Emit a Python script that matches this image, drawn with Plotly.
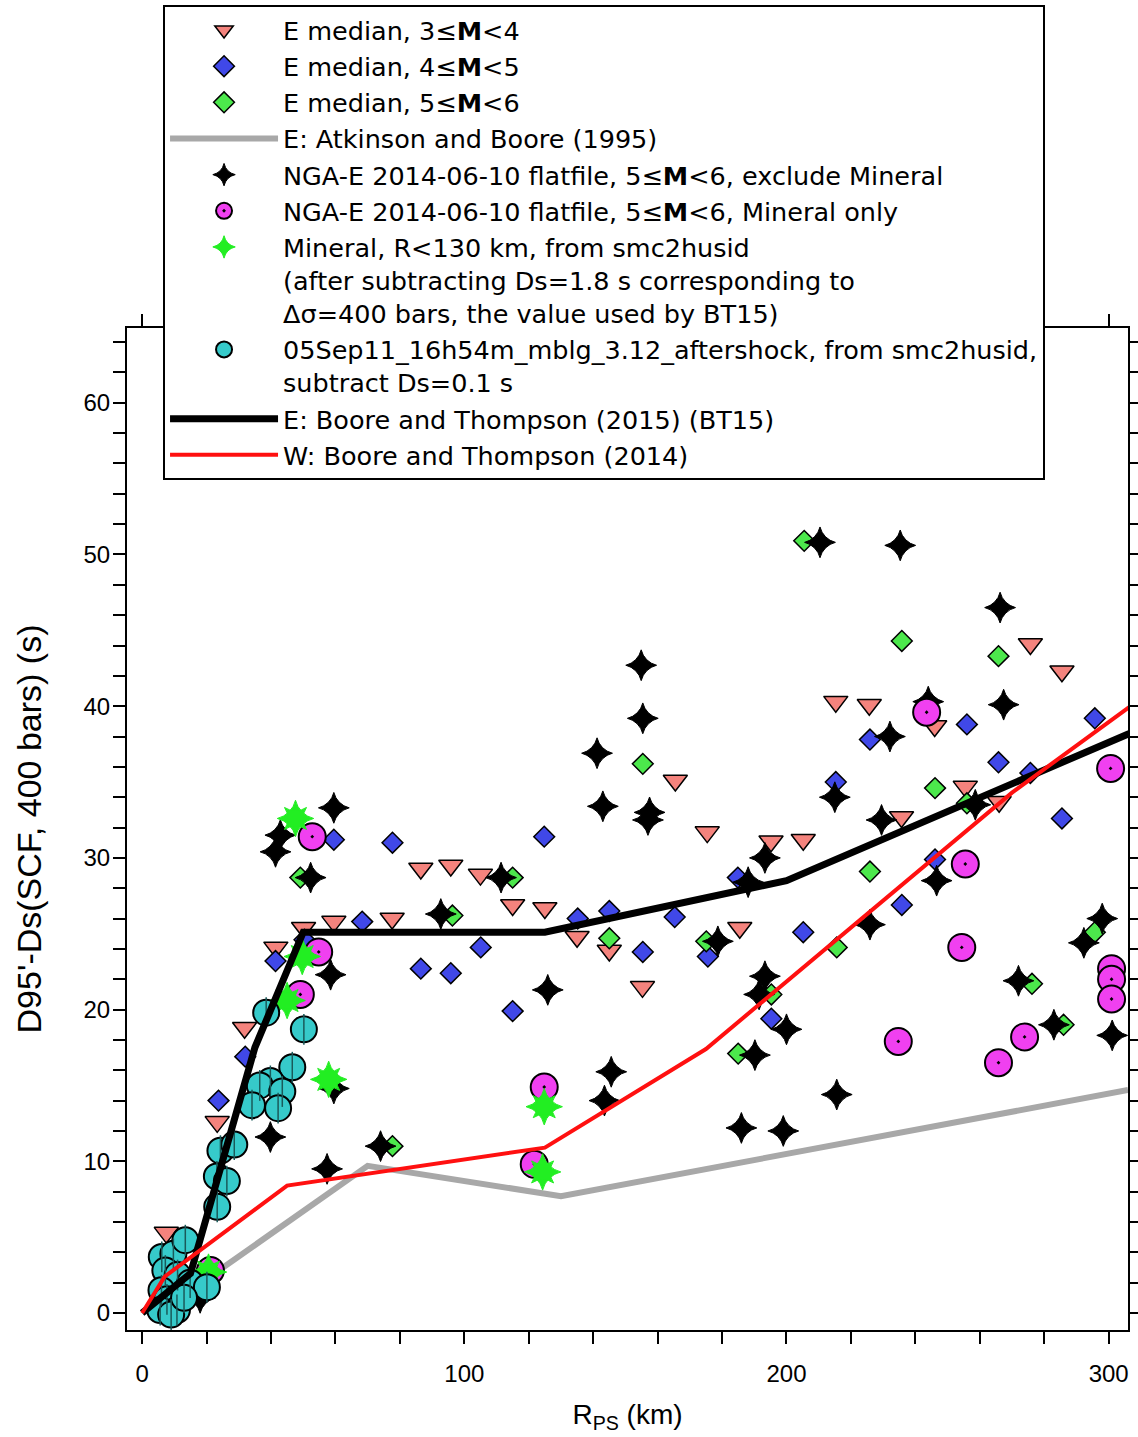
import plotly.graph_objects as go

# ---------------- data ----------------
tri_x = [7.5, 23.3, 31.8, 41.5, 50.1, 59.5, 77.6, 86.5, 95.8, 105.0, 115.0, 125.0, 135.0, 145.0,
         155.3, 165.5, 175.4, 185.5, 195.2, 205.2, 215.3, 225.7, 235.7, 246.0, 255.5, 266.0, 275.7, 285.5]
tri_y = [5.3, 12.6, 18.8, 24.1, 25.4, 25.8, 26.0, 29.3, 29.5, 28.9, 26.9, 26.7, 24.8, 23.9,
         21.5, 35.1, 31.7, 25.4, 31.1, 31.2, 40.3, 40.1, 32.7, 38.7, 34.7, 33.7, 44.1, 42.3]

blue_x = [23.7, 32.0, 41.4, 50.4, 59.5, 68.3, 77.7, 86.5, 95.8, 105.1, 115.0, 124.8, 135.2, 145.0,
          155.4, 165.3, 175.6, 184.9, 195.3, 205.2, 215.3, 225.9, 235.8, 246.1, 256.0, 265.8, 275.7,
          285.5, 295.7]
blue_y = [14.0, 16.9, 23.2, 24.6, 31.2, 25.8, 31.0, 22.7, 22.4, 24.1, 19.9, 31.4, 26.0, 26.5,
          23.8, 26.1, 23.5, 28.7, 19.4, 25.1, 35.0, 37.8, 26.9, 29.9, 38.8, 36.3, 35.6,
          32.6, 39.2]

green_x = [49.1, 77.7, 96.3, 115.0, 145.0, 155.4, 175.1, 185.0, 195.3, 205.5, 215.6, 225.9, 235.8,
           246.1, 256.0, 265.8, 276.2, 286.0, 295.7]
green_y = [28.7, 11.0, 26.2, 28.7, 24.7, 36.2, 24.5, 17.1, 21.0, 50.9, 24.1, 29.1, 44.3,
           34.6, 33.6, 43.3, 21.7, 19.0, 25.1]

ab95_x = [5, 70, 130, 306]
ab95_y = [0.0, 9.7, 7.7, 14.7]

nga_x = [18.0, 39.8, 41.4, 42.9, 52.3, 57.4, 58.5, 59.5, 59.5, 74.0, 92.7, 111.4, 125.9, 141.2,
         143.0, 143.5, 145.6, 154.9, 155.4, 157.5, 157.0, 178.7, 186.0, 188.1, 190.2, 191.5, 193.3,
         193.3, 199.0, 200.0, 210.4, 215.0, 215.6, 225.9, 229.5, 232.1, 235.3, 244.0, 246.6, 258.6,
         266.3, 267.4, 272.0, 283.0, 292.3, 298.0, 301.1]
nga_y = [1.0, 11.6, 30.4, 31.5, 28.7, 9.5, 22.3, 33.3, 14.8, 11.0, 26.3, 28.7, 21.3, 36.9,
         33.4, 14.0, 15.9, 42.7, 39.2, 33.0, 32.5, 24.5, 12.2, 28.4, 17.0, 21.0, 22.2,
         30.0, 12.0, 18.7, 50.8, 34.0, 14.4, 25.6, 32.5, 38.0, 50.6, 40.3, 28.5, 33.5,
         46.5, 40.1, 21.9, 19.0, 24.4, 26.0, 18.3]

min_x = [21.2, 49.1, 54.8, 52.8, 121.7, 124.8, 234.7, 243.5, 254.4, 255.5, 265.8, 273.9, 300.6,
         300.9, 300.9, 300.9]
min_y = [2.8, 21.0, 23.8, 31.4, 9.8, 14.9, 17.9, 39.6, 24.1, 29.6, 16.5, 18.2, 35.9,
         22.7, 22.0, 20.7]

smc_x = [20.6, 45.0, 47.6, 49.7, 57.9, 124.8, 124.3]
smc_y = [2.7, 20.6, 32.6, 23.5, 15.4, 13.6, 9.3]

aft_x = [6.1, 9.7, 13.4, 7.2, 11.0, 14.9, 20.1, 6.0, 7.7, 10.8, 5.6, 9.0, 13.0,
         24.3, 28.6, 23.2, 26.3, 23.3,
         38.5, 50.2, 46.6, 39.8, 36.5, 43.5, 34.1, 42.2]
aft_y = [3.7, 3.9, 4.8, 2.8, 2.5, 2.0, 1.7, 1.5, 0.9, 0.2, 0.2, -0.1, 1.0,
         10.7, 11.1, 9.0, 8.7, 7.0,
         19.8, 18.7, 16.2, 15.3, 15.0, 14.6, 13.7, 13.5]

bt15_x = [0, 15, 35, 50, 125, 200, 392]
bt15_y = [0.0, 2.6, 17.5, 25.1, 25.1, 28.5, 46.0]

bt14_x = [0, 7, 45, 125, 175, 270, 310]
bt14_y = [0.0, 2.4, 8.4, 10.9, 17.4, 34.3, 40.5]

x_ticks = [0, 100, 200, 300]
y_ticks = [0, 10, 20, 30, 40, 50, 60]

names = [
    "E median, 3≤<b>M</b>&lt;4",
    "E median, 4≤<b>M</b>&lt;5",
    "E median, 5≤<b>M</b>&lt;6",
    "E: Atkinson and Boore (1995)",
    "NGA-E 2014-06-10 flatfile, 5≤<b>M</b>&lt;6, exclude Mineral",
    "NGA-E 2014-06-10 flatfile, 5≤<b>M</b>&lt;6, Mineral only",
    "Mineral, R&lt;130 km, from smc2husid<br>(after subtracting Ds=1.8 s corresponding to<br>Δσ=400 bars, the value used by BT15)",
    "05Sep11_16h54m_mblg_3.12_aftershock, from smc2husid,<br>subtract Ds=0.1 s",
    "E: Boore and Thompson (2015) (BT15)",
    "W: Boore and Thompson (2014)",
]

FONT = "Liberation Sans, Arial, sans-serif"
LEGFONT = "DejaVu Sans, Verdana, sans-serif"

fig = go.Figure()
fig.add_trace(go.Scatter(x=tri_x, y=tri_y, mode="markers", name=names[0],
                         marker=dict(symbol="triangle-down", size=21, color="#F4837D",
                                     line=dict(color="black", width=1.5))))
fig.add_trace(go.Scatter(x=blue_x, y=blue_y, mode="markers", name=names[1],
                         marker=dict(symbol="diamond", size=16, color="#4048E8",
                                     line=dict(color="black", width=1.5))))
fig.add_trace(go.Scatter(x=green_x, y=green_y, mode="markers", name=names[2],
                         marker=dict(symbol="diamond", size=16, color="#4CE84C",
                                     line=dict(color="black", width=1.5))))
fig.add_trace(go.Scatter(x=ab95_x, y=ab95_y, mode="lines", name=names[3],
                         line=dict(color="#A8A8A8", width=6)))
fig.add_trace(go.Scatter(x=nga_x, y=nga_y, mode="markers", name=names[4],
                         marker=dict(symbol="star-diamond", size=22, color="black",
                                     line=dict(color="black", width=1))))
fig.add_trace(go.Scatter(x=min_x, y=min_y, mode="markers", name=names[5],
                         marker=dict(symbol="circle-dot", size=27, color="#F040F0",
                                     line=dict(color="black", width=2))))
fig.add_trace(go.Scatter(x=smc_x, y=smc_y, mode="markers", name=names[6],
                         marker=dict(symbol="star-diamond", size=26, color="#22EE22",
                                     line=dict(color="#22EE22", width=1))))
fig.add_trace(go.Scatter(x=smc_x, y=smc_y, mode="markers", showlegend=False, hoverinfo="skip",
                         marker=dict(symbol="star-square", size=20, color="#22EE22",
                                     line=dict(color="#22EE22", width=1))))
fig.add_trace(go.Scatter(x=aft_x, y=aft_y, mode="markers", name=names[7],
                         marker=dict(symbol="circle", size=26, color="#36CACA",
                                     line=dict(color="black", width=2))))
fig.add_trace(go.Scatter(x=aft_x, y=aft_y, mode="markers", showlegend=False, hoverinfo="skip",
                         marker=dict(symbol="line-ns", size=22, color="#000000",
                                     line=dict(color="#1A5A5A", width=1.5))))
fig.add_trace(go.Scatter(x=bt15_x, y=bt15_y, mode="lines", name=names[8],
                         line=dict(color="black", width=7)))
fig.add_trace(go.Scatter(x=bt14_x, y=bt14_y, mode="lines", name=names[9],
                         line=dict(color="#FF1010", width=4)))

axis_common = dict(showline=True, linecolor="black", linewidth=2, mirror="ticks",
                   ticks="outside", ticklen=12, tickwidth=2, tickcolor="black",
                   showgrid=False, zeroline=False, automargin=False,
                   tickfont=dict(family=FONT, size=24, color="black"))

fig.update_layout(
    width=1138, height=1437,
    margin=dict(l=127, r=10, t=328, b=107, autoexpand=False),
    paper_bgcolor="white", plot_bgcolor="white",
    font=dict(family=FONT, color="black"),
    xaxis=dict(range=[-4.7, 306], tickvals=x_ticks, ticklabelstandoff=9,
               minor=dict(dtick=20, tick0=0, ticks="outside", ticklen=12, tickwidth=2, tickcolor="black"),
               title=dict(text="R<sub>PS</sub> (km)", font=dict(family=FONT, size=28), standoff=19),
               **axis_common),
    yaxis=dict(range=[-1.12, 64.93], tickvals=y_ticks, ticklabelstandoff=-2,
               minor=dict(dtick=2, tick0=0, ticks="outside", ticklen=12, tickwidth=2, tickcolor="black"),
               title=dict(text="D95'-Ds(SCF, 400 bars) (s)", font=dict(family=FONT, size=34), standoff=32),
               **axis_common),
    legend=dict(x=0.036, y=1.3224, xanchor="left", yanchor="top",
                bgcolor="white", bordercolor="black", borderwidth=2,
                font=dict(family=LEGFONT, size=25.5, color="black"),
                itemwidth=108, valign="top", tracegroupgap=0),
    showlegend=True,
)

fig.write_html("out.html")
